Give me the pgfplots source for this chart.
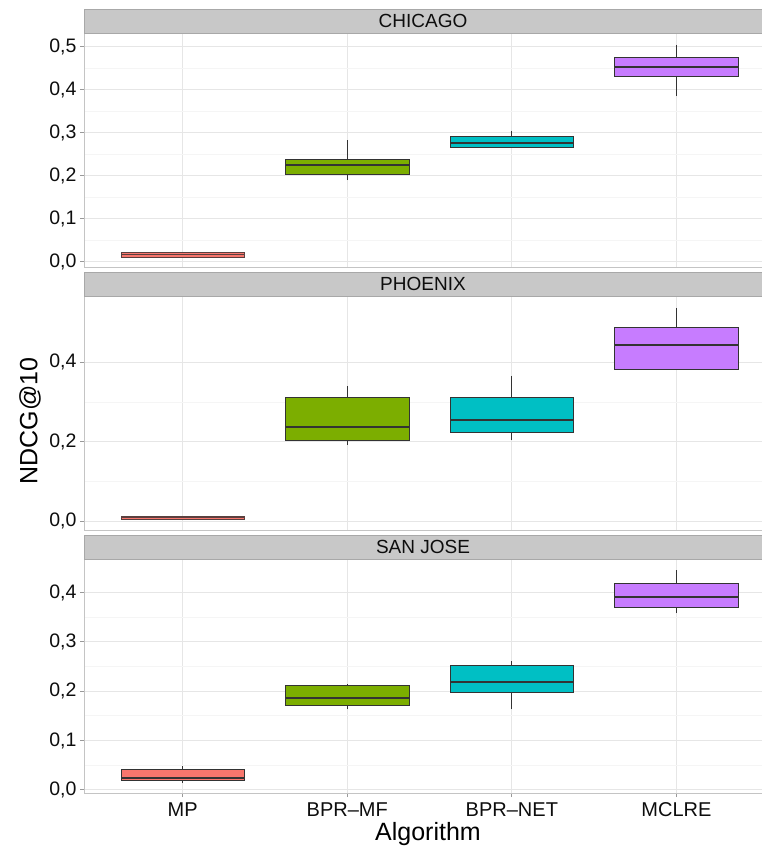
\documentclass[border=0pt]{standalone}
\usepackage{pgfplots}
\pgfplotsset{compat=1.18}
\usepgfplotslibrary{statistics}
\usepackage{fontspec}
\setmainfont{Liberation Sans}
\definecolor{cMP}{HTML}{F8766D}
\definecolor{cMF}{HTML}{7CAE00}
\definecolor{cNET}{HTML}{00BFC4}
\definecolor{cMC}{HTML}{C77CFF}
\definecolor{outl}{HTML}{333333}
\definecolor{stripfill}{HTML}{C8C8C8}
\definecolor{stripdraw}{HTML}{A8A8A8}
\definecolor{gridmaj}{HTML}{E6E6E6}
\definecolor{gridmin}{HTML}{F5F5F5}
\definecolor{frame}{HTML}{C4C4C4}

\pgfplotsset{
  panel/.style={
    anchor=north west, scale only axis, width=678pt, height=233pt,
    xmin=0.4, xmax=4.52, xtick={1,2,3,4},
    axis x line*=bottom, axis y line*=left,
    axis line style={frame, line width=1pt},
    xmajorgrids, ymajorgrids, yminorgrids, minor y tick num=1,
    major grid style={gridmaj, line width=1pt},
    minor grid style={gridmin, line width=0.8pt},
    tick align=outside, major tick length=4pt, minor tick length=0pt,
    tick style={gray!80, line width=0.8pt},
    tick label style={font=\fontsize{19.5}{19.5}\selectfont, text=black!95},
    yticklabel style={/pgf/number format/.cd, fixed, fixed zerofill, precision=1, use comma, assume math mode=true},
    boxplot/draw direction=y,
    clip=false,
  },
  bx/.style={draw=outl, line width=0.8pt, solid, boxplot/draw direction=y,
    boxplot/every median/.style={line width=2pt}},
  thinmed/.style={draw=outl!80!cMP, line width=0.6pt, boxplot/every median/.style={line width=1.1pt}},
  nox/.style={xticklabels={}, xtick style={draw=none}},
}

\newcommand{\strip}[2]{%
  \draw[stripdraw, fill=stripfill, line width=1pt] ([yshift=1pt]#1.north west) rectangle ([yshift=25pt,xshift=2pt]#1.north east);
  \node[font=\fontsize{19}{19}\selectfont, text=black!95] at ([yshift=13pt]#1.north) {#2};
}

\begin{document}
\begin{tikzpicture}
\path[use as bounding box] (0,0) rectangle (762pt,-852pt);

% CHICAGO
\begin{axis}[panel, nox, name=ax1, at={(84pt,-34pt)},
  ymin=-0.0123, ymax=0.5295, ytick={0,0.1,0.2,0.3,0.4,0.5}]
\addplot[bx, thinmed, fill=cMP, boxplot prepared={draw position=1, lower whisker=0.010, lower quartile=0.011, median=0.016, upper quartile=0.022, upper whisker=0.023, box extend=0.75, whisker extend=0}] coordinates {};
\addplot[bx, fill=cMF, boxplot prepared={draw position=2, lower whisker=0.190, lower quartile=0.204, median=0.225, upper quartile=0.239, upper whisker=0.283, box extend=0.75, whisker extend=0}] coordinates {};
\addplot[bx, fill=cNET, boxplot prepared={draw position=3, lower whisker=0.266, lower quartile=0.266, median=0.277, upper quartile=0.292, upper whisker=0.305, box extend=0.75, whisker extend=0}] coordinates {};
\addplot[bx, fill=cMC, boxplot prepared={draw position=4, lower whisker=0.385, lower quartile=0.430, median=0.452, upper quartile=0.474, upper whisker=0.505, box extend=0.75, whisker extend=0}] coordinates {};
\end{axis}
\strip{ax1}{CHICAGO}

% PHOENIX
\begin{axis}[panel, nox, name=ax2, at={(84pt,-297pt)},
  ymin=-0.0218, ymax=0.5647, ytick={0,0.2,0.4}]
\addplot[bx, thinmed, fill=cMP, boxplot prepared={draw position=1, lower whisker=0.004, lower quartile=0.005, median=0.009, upper quartile=0.013, upper whisker=0.014, box extend=0.75, whisker extend=0}] coordinates {};
\addplot[bx, fill=cMF, boxplot prepared={draw position=2, lower whisker=0.192, lower quartile=0.203, median=0.237, upper quartile=0.313, upper whisker=0.340, box extend=0.75, whisker extend=0}] coordinates {};
\addplot[bx, fill=cNET, boxplot prepared={draw position=3, lower whisker=0.205, lower quartile=0.223, median=0.256, upper quartile=0.313, upper whisker=0.367, box extend=0.75, whisker extend=0}] coordinates {};
\addplot[bx, fill=cMC, boxplot prepared={draw position=4, lower whisker=0.383, lower quartile=0.383, median=0.443, upper quartile=0.488, upper whisker=0.538, box extend=0.75, whisker extend=0}] coordinates {};
\end{axis}
\strip{ax2}{PHOENIX}

% SAN JOSE
\begin{axis}[panel, name=ax3, at={(84pt,-560pt)},
  ymin=-0.0066, ymax=0.466, ytick={0,0.1,0.2,0.3,0.4},
  xticklabels={MP,BPR\textendash MF,BPR\textendash NET,MCLRE},
  xticklabel style={font=\fontsize{20}{20}\selectfont, yshift=-2pt}]
\addplot[bx, fill=cMP, boxplot prepared={draw position=1, lower whisker=0.013, lower quartile=0.018, median=0.023, upper quartile=0.042, upper whisker=0.048, box extend=0.75, whisker extend=0}] coordinates {};
\addplot[bx, fill=cMF, boxplot prepared={draw position=2, lower whisker=0.163, lower quartile=0.171, median=0.186, upper quartile=0.211, upper whisker=0.214, box extend=0.75, whisker extend=0}] coordinates {};
\addplot[bx, fill=cNET, boxplot prepared={draw position=3, lower whisker=0.163, lower quartile=0.197, median=0.218, upper quartile=0.252, upper whisker=0.261, box extend=0.75, whisker extend=0}] coordinates {};
\addplot[bx, fill=cMC, boxplot prepared={draw position=4, lower whisker=0.358, lower quartile=0.370, median=0.390, upper quartile=0.419, upper whisker=0.445, box extend=0.75, whisker extend=0}] coordinates {};
\end{axis}
\strip{ax3}{SAN JOSE}

\node[rotate=90, font=\fontsize{25}{25}\selectfont] at (30pt,-421pt) {NDCG@10};
\node[font=\fontsize{25}{25}\selectfont] at (428pt,-834pt) {Algorithm};
\end{tikzpicture}
\end{document}
